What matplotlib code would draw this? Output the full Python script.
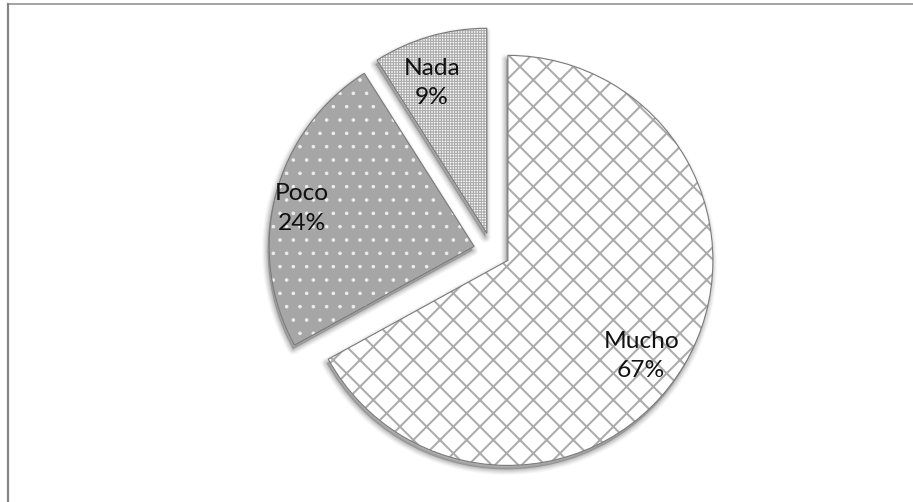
import numpy as np
import matplotlib
matplotlib.use("Agg")
import matplotlib.pyplot as plt
from matplotlib.patches import Wedge
from matplotlib.lines import Line2D

# Survey answers and their shares (%)
categories = ["Mucho", "Poco", "Nada"]
shares = [67, 24, 9]
pct_labels = ["67%", "24%", "9%"]

# Slice styling
face_colors = ["#ffffff", "#a6a6a6", "#ffffff"]
hatch_colors = ["#aaaaaa", "#eeeeee", "#ababab"]
hatches = ["x", ".", "+++++"]
hatch_widths = [1.8, 0.8, 1.0]
explode = [0.09, 0.09, 0.09]
label_radius = [0.80, 0.86, 0.78]
label_turn = [-5.0, 2.0, 4.0]   # degrees, rotates each label around its slice centre

W, H, DPI = 913, 502, 80
R = 205.0                 # pie radius in pixels
CX, CY = 492.0, 251.0     # pie centre in pixels (from bottom-left)

fig = plt.figure(figsize=(W / DPI, H / DPI), dpi=DPI)
fig.patch.set_facecolor("white")

half = 1.3 * R
ax = fig.add_axes([(CX - half) / W, (CY - half) / H, 2 * half / W, 2 * half / H])

wedges, _ = ax.pie(
    shares, explode=explode, startangle=90, counterclock=False, radius=1,
    colors=face_colors, wedgeprops=dict(linewidth=0),
)
ax.set_xlim(-1.3, 1.3)
ax.set_ylim(-1.3, 1.3)
ax.set_aspect("equal")
ax.axis("off")

px = 1.0 / R  # one pixel in data units

for w, h, hc, hw in zip(wedges, hatches, hatch_colors, hatch_widths):
    cx, cy = w.center
    # soft drop shadow underneath the slice
    for lw, a in [(10, 0.03), (8, 0.04), (6, 0.05), (4, 0.06), (2, 0.07)]:
        sh = Wedge((cx - 1.5 * px, cy - 4 * px), w.r, w.theta1, w.theta2,
                   facecolor="#000000", edgecolor="#000000", linewidth=lw,
                   alpha=a, zorder=0.5, joinstyle="round")
        ax.add_patch(sh)
    w.set_zorder(1)
    w.set_hatch(h)
    w.set_edgecolor(hc)
    if hasattr(w, "set_hatch_linewidth"):
        w.set_hatch_linewidth(hw)
    # slice outline
    ax.add_patch(Wedge((cx, cy), w.r, w.theta1, w.theta2, fill=False,
                       edgecolor="#7a7a7a", linewidth=1.0, zorder=2))

for w, cat, pct, rl, turn in zip(wedges, categories, pct_labels, label_radius, label_turn):
    cx, cy = w.center
    mid = np.deg2rad((w.theta1 + w.theta2) / 2 + turn)
    ax.text(cx + rl * np.cos(mid), cy + rl * np.sin(mid), f"{cat}\n{pct}",
            ha="center", va="center", fontsize=22, family=["Lato", "DejaVu Sans"],
            color="#111111", linespacing=1.5, zorder=3)

# chart area frame
fig.add_artist(Line2D([7.5 / W, 1.0], [1 - 3.5 / H, 1 - 3.5 / H],
                      transform=fig.transFigure, color="#9a9a9a", linewidth=1.6))
fig.add_artist(Line2D([7.5 / W, 7.5 / W], [0.0, 1 - 3.5 / H],
                      transform=fig.transFigure, color="#858585", linewidth=2.0))

fig.savefig("out.png", dpi=DPI, facecolor="white")
